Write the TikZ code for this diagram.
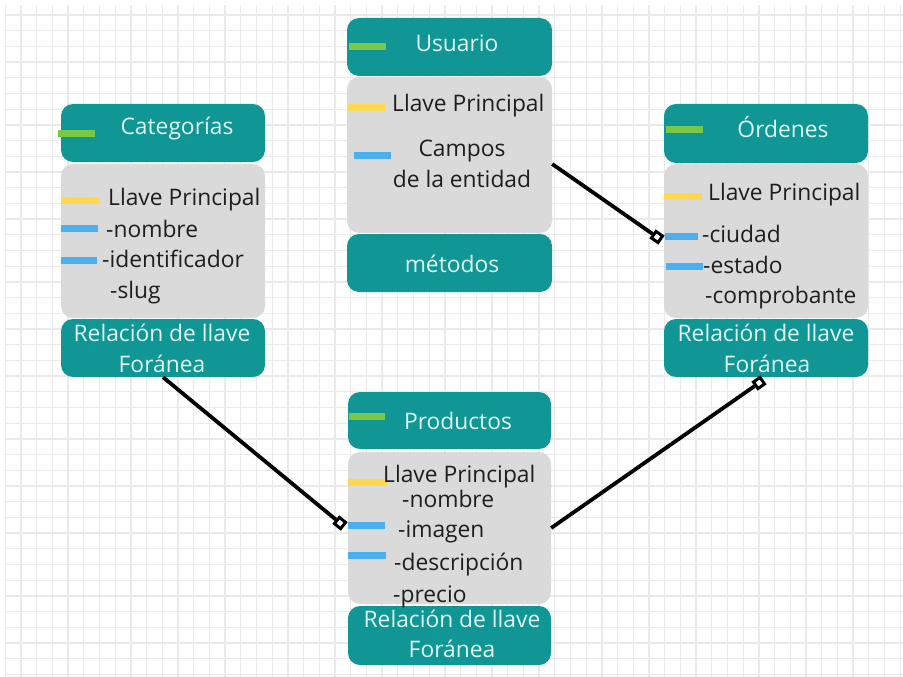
\documentclass[tikz,border=0pt]{standalone}
\usepackage{fontspec}
\setmainfont{Open Sans}
\definecolor{teal1}{RGB}{17,150,150}
\definecolor{bodyg}{RGB}{218,218,218}
\definecolor{gridc}{RGB}{234,234,234}
\definecolor{hdrtxt}{RGB}{222,246,244}
\definecolor{txt}{RGB}{30,30,30}
\definecolor{barg}{RGB}{122,200,72}
\definecolor{bary}{RGB}{255,216,80}
\definecolor{barb}{RGB}{74,176,242}
\tikzset{
  hdr/.style={fill=teal1, rounded corners=12pt, inner sep=0pt, minimum width=#1},
  hdr/.default=204pt,
  bodybox/.style={fill=bodyg, rounded corners=12pt, inner sep=0pt},
  ttl/.style={text=hdrtxt, inner sep=0pt, anchor=base, font=\fontsize{22.8}{26}\selectfont},
  itm/.style={text=txt, inner sep=0pt, anchor=base west, font=\fontsize{22.8}{26}\selectfont},
  itc/.style={text=txt, inner sep=0pt, anchor=base, font=\fontsize{22.8}{26}\selectfont},
  gbar/.style={draw=barg, line width=7pt},
  ybar/.style={draw=bary, line width=7pt},
  bbar/.style={draw=barb, line width=7pt},
  conn/.style={draw=black, line width=3.8pt},
  mk/.style={draw=black, fill=white, line width=3pt, minimum size=8pt, inner sep=0pt, shape=rectangle}
}
\begin{document}
\begin{tikzpicture}[x=1pt,y=-1pt]
\useasboundingbox (0,0) rectangle (903,677);
\fill[white] (0,0) rectangle (903,677);
% grid
\foreach \i in {0,...,57} {\draw[gridc, line width=1.3pt] (5.3+15.7*\i,5) -- (5.3+15.7*\i,677);}
\foreach \j in {0,...,42} {\draw[gridc, line width=1.3pt] (5,15+15.7*\j) -- (903,15+15.7*\j);}

% ---------- Categorias ----------
\node[hdr, minimum height=58pt] (cathead) at (163,133) {};
\node[bodybox, minimum width=204pt, minimum height=154pt] (catbody) at (163,241) {};
\node[hdr, minimum height=58pt] (catfoot) at (163,348) {};
\draw[gbar] (58,133) -- (95,133);
\draw[ybar] (61,200) -- (100,200);
\draw[bbar] (61,228.5) -- (98,228.5);
\draw[bbar] (61,260) -- (97,260);
\node[ttl] (cattitle) at (177,135) {Categorías};
\node[itm] (catpk) at (108,205) {Llave Principal};
\node[itm] (catf1) at (106,237) {-nombre};
\node[itm] (catf2) at (102,267) {-identificador};
\node[itm] (catf3) at (110,298) {-slug};
\node[ttl] (catfk1) at (162,341) {Relación de llave};
\node[ttl] (catfk2) at (162,372) {Foránea};

% ---------- Usuario ----------
\node[hdr=205pt, minimum height=58pt] (ushead) at (449.5,47) {};
\node[bodybox, minimum width=205pt, minimum height=156pt] (usbody) at (449.5,155) {};
\node[hdr=205pt, minimum height=58pt] (usfoot) at (449.5,263) {};
\draw[gbar] (349,47) -- (386,47);
\draw[ybar] (348,108) -- (385,108);
\draw[bbar] (354,155) -- (391,155);
\node[ttl] (ustitle) at (457,52) {Usuario};
\node[itm] (uspk) at (392,111) {Llave Principal};
\node[itc] (usf1) at (462,157) {Campos};
\node[itc] (usf2) at (462,187) {de la entidad};
\node[ttl] (usmet) at (452,272) {métodos};

% ---------- Ordenes ----------
\node[hdr, minimum height=59pt] (ordhead) at (766,133.5) {};
\node[bodybox, minimum width=204pt, minimum height=154pt] (ordbody) at (766,241) {};
\node[hdr, minimum height=58pt] (ordfoot) at (766,348) {};
\draw[gbar] (666,129) -- (703,129);
\draw[ybar] (664,196) -- (702,196);
\draw[bbar] (665,236) -- (698,236);
\draw[bbar] (666,266) -- (703,266);
\node[ttl] (ordtitle) at (783,137) {Órdenes};
\node[itm] (ordpk) at (708,200) {Llave Principal};
\node[itm] (ordf1) at (702,242) {-ciudad};
\node[itm] (ordf2) at (703,273) {-estado};
\node[itm] (ordf3) at (705,303) {-comprobante};
\node[ttl] (ordfk1) at (766,341) {Relación de llave};
\node[ttl] (ordfk2) at (767,372) {Foránea};

% ---------- Productos ----------
\node[hdr=203pt, minimum height=57pt] (prhead) at (449.5,420.5) {};
\node[bodybox, minimum width=203pt, minimum height=152pt] (prbody) at (449.5,528) {};
\node[hdr=203pt, minimum height=59pt] (prfoot) at (449.5,635.5) {};
\draw[gbar] (349,416) -- (385,416);
\draw[ybar] (348,482) -- (387,482);
\draw[bbar] (348,525) -- (385,525);
\draw[bbar] (348,555) -- (386,555);
\node[ttl] (prtitle) at (458,429) {Productos};
\node[itm] (prpk) at (383,482) {Llave Principal};
\node[itm] (prf1) at (402,507) {-nombre};
\node[itm] (prf2) at (398,537) {-imagen};
\node[itm] (prf3) at (394,570) {-descripción};
\node[itm] (prf4) at (393,602) {-precio};
\node[ttl] (prfk1) at (452,627) {Relación de llave};
\node[ttl] (prfk2) at (452,657) {Foránea};

% ---------- connectors ----------
\node[mk, rotate=-39] (m1) at (340,523) {};
\node[mk, rotate=-35] (m2) at (657,237) {};
\node[mk, rotate=35] (m3) at (759,383) {};
\draw[conn] (catfoot.south) -- (m1);
\draw[conn] ([yshift=-9pt]usbody.east) -- (m2);
\draw[conn] (prbody.east) -- (m3);
\end{tikzpicture}
\end{document}
